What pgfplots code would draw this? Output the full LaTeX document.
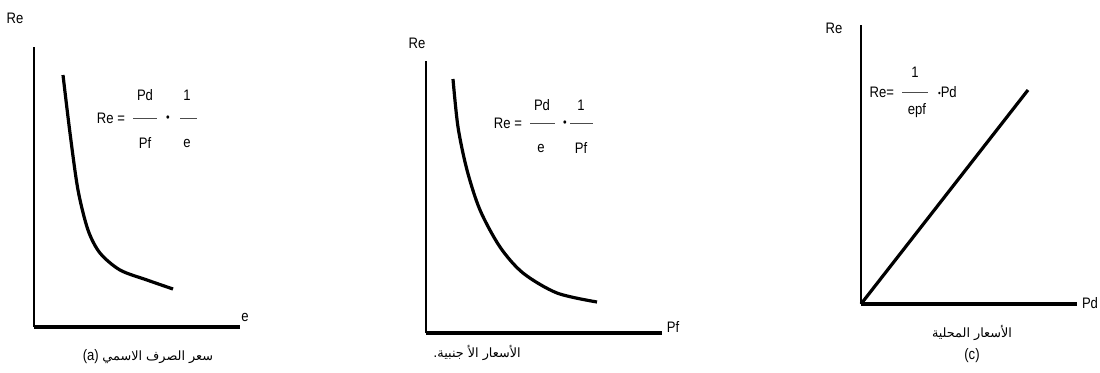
\documentclass[border=0pt]{standalone}
\usepackage{pgfplots}
\pgfplotsset{compat=1.18}
\usepackage{fontspec}
\setmainfont{Liberation Sans}[FakeStretch=0.86]
\newfontfamily\arabicfont[Script=Arabic]{DejaVu Sans}
\TeXXeTstate=1

% 1 axis unit = 0.5pt in every panel
\pgfplotsset{
  panel/.style={
    scale only axis, anchor=south west, clip=false,
    axis lines=left, axis line style={-}, ticks=none,
    x axis line style={line width=2pt},
    y axis line style={line width=1.4pt},
    xmin=0, ymin=0,
  },
  curve/.style={black, line width=1.6pt, smooth, no marks},
}
\newcommand{\lbl}{\fontsize{7.6}{8}\selectfont}
\newcommand{\arcap}{\fontsize{6.4}{7}\selectfont\arabicfont}
\newcommand{\dotop}{{\fontsize{6}{6}\selectfont\raisebox{0.3pt}{\textbullet}}}

\begin{document}
\begin{tikzpicture}
\useasboundingbox (0,0) rectangle (550pt,186pt);

% (a) real exchange rate against the nominal rate
\begin{axis}[panel, at={(17pt,22.5pt)}, width=103pt, height=140pt,
  xmax=206, ymax=280]
  \addplot[curve] coordinates {
    (29,252) (36,194) (44,137) (54,97) (66,74) (86,57) (113,47) (139,38)};
  \node[font=\lbl] at (axis cs:-19,309) {Re};
  \node[font=\lbl] at (axis cs:211,10) {e};
  \node[font=\lbl, anchor=east] at (axis cs:98,209) {Re =};
  \node[font=\lbl] at (axis cs:111,232) {Pd};
  \node[font=\lbl] at (axis cs:111,184) {Pf};
  \draw[gray!60!black, line width=0.5pt] (axis cs:99,209) -- (axis cs:123,209);
  \node[font=\lbl] at (axis cs:134,208) {\dotop};
  \node[font=\lbl] at (axis cs:153,232) {1};
  \node[font=\lbl] at (axis cs:153,184) {e};
  \draw[gray!60!black, line width=0.5pt] (axis cs:146,209) -- (axis cs:163,209);
  \node[font=\lbl] at (axis cs:114,-30) {(a) {\arcap\beginR سعر الصرف الاسمي\endR}};
\end{axis}

% (b) real exchange rate against foreign prices
\begin{axis}[panel, at={(213pt,19.5pt)}, width=118pt, height=136pt,
  xmax=236, ymax=272]
  \addplot[curve] coordinates {
    (27,254) (32,206) (41,163) (54,123) (74,86) (97,60) (131,40) (171,31)};
  \node[font=\lbl] at (axis cs:-9,290) {Re};
  \node[font=\lbl] at (axis cs:247,6) {Pf};
  \node[font=\lbl, anchor=east] at (axis cs:103,210) {Re =};
  \node[font=\lbl] at (axis cs:116,228) {Pd};
  \node[font=\lbl] at (axis cs:115,185) {e};
  \draw[gray!60!black, line width=0.5pt] (axis cs:104,210) -- (axis cs:129,210);
  \node[font=\lbl] at (axis cs:139,209) {\dotop};
  \node[font=\lbl] at (axis cs:155,228) {1};
  \node[font=\lbl] at (axis cs:155,185) {Pf};
  \draw[gray!60!black, line width=0.5pt] (axis cs:144,210) -- (axis cs:167,210);
  \node[font=\arcap] at (axis cs:51,-20) {\beginR الأسعار الأ جنبية.\endR};
\end{axis}

% (c) real exchange rate against domestic prices
\begin{axis}[panel, at={(430.5pt,34pt)}, width=108pt, height=139.5pt,
  xmax=216, ymax=279]
  \addplot[black, line width=1.6pt, no marks] coordinates {(0,0) (167,214)};
  \node[font=\lbl] at (axis cs:-27,276) {Re};
  \node[font=\lbl] at (axis cs:229,1) {Pd};
  \node[font=\lbl, anchor=east] at (axis cs:40,212) {Re=};
  \node[font=\lbl] at (axis cs:54,232) {1};
  \node[font=\lbl] at (axis cs:56,193) {epf};
  \draw[gray!60!black, line width=0.5pt] (axis cs:41,212) -- (axis cs:67,212);
  \node[font=\lbl, anchor=west] at (axis cs:70,212) {{\fontsize{4.5}{5}\selectfont\raisebox{0.6pt}{\textbullet}}Pd};
  \node[font=\arcap] at (axis cs:111,-29) {\beginR الأسعار المحلية\endR};
  \node[font=\lbl] at (axis cs:111,-52) {(c)};
\end{axis}
\end{tikzpicture}
\end{document}
